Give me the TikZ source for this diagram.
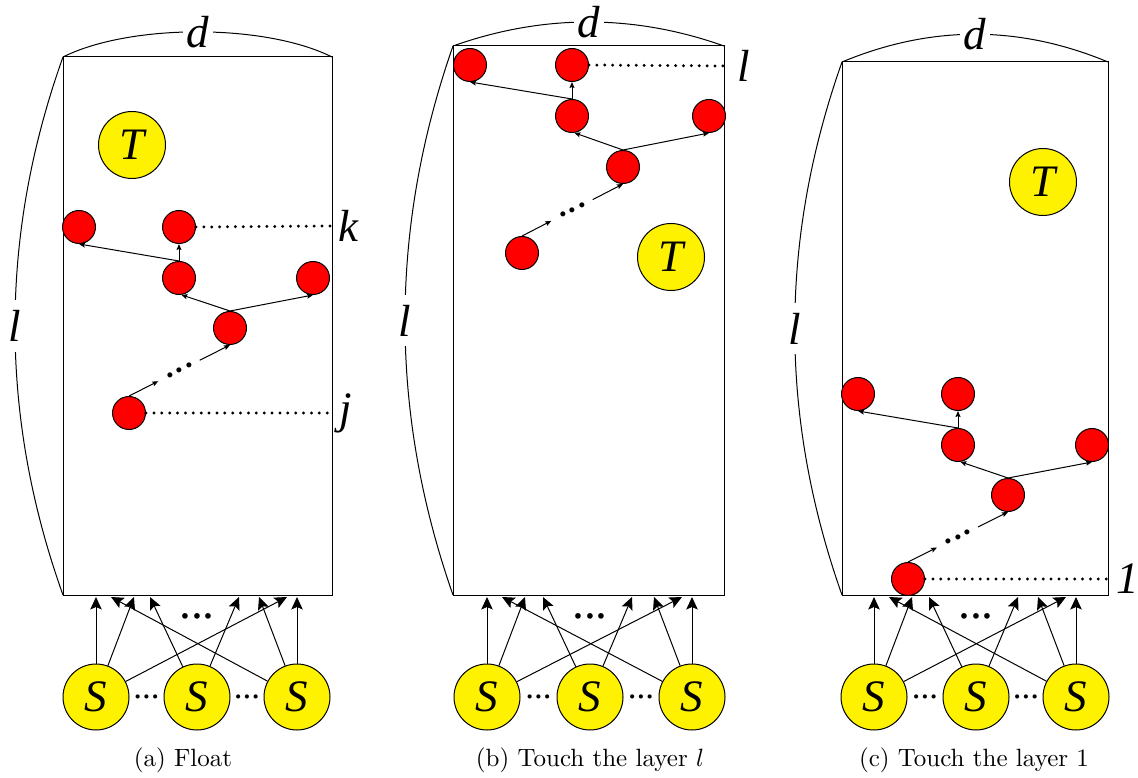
\documentclass[tikz,border=0pt]{standalone}
\usepackage{fontspec}
\newfontfamily\tms{Liberation Serif}
\usetikzlibrary{arrows.meta,calc}
\tikzset{
 lbl/.style={font=\fontsize{18}{20}\selectfont\tms\itshape},
 src/.style={circle,draw,fill=yellow,minimum size=26.4pt,inner sep=0pt,lbl},
 tgt/.style={circle,draw,fill=yellow,minimum size=26.8pt,inner sep=0pt,lbl},
 rn/.style={circle,draw,fill=red,minimum size=13.2pt,inner sep=0pt},
 bigarr/.style={-{Stealth[length=5pt,width=4.6pt,inset=1pt]}},
 smarr/.style={-{Stealth[length=2.4pt,width=2pt,inset=0.4pt]}},
 dotl/.style={line width=1.3pt,dash pattern=on 0pt off 3.15pt,line cap=round},
 gapd/.style={lbl,fill=white,inner xsep=1.5pt,inner ysep=1pt},
 gapl/.style={lbl,fill=white,inner xsep=1pt,inner ysep=4pt},
 sidelbl/.style={lbl,inner xsep=3pt,inner ysep=1pt},
 dotstxt/.style={font=\fontsize{#1}{#1}\selectfont\tms,inner sep=0pt},
 captxt/.style={font=\normalsize},
}
\newcommand\srcs[4]{%
 \node[src] (#1s1) at (#2,697) {S};
 \node[src] (#1s2) at (#3,697) {S};
 \node[src] (#1s3) at (#4,697) {S};
 \node[dotstxt=14] (#1d1) at ($(#1s1.east)!0.5!(#1s2.west)$) {...};
 \node[dotstxt=14] (#1d2) at ($(#1s2.east)!0.5!(#1s3.west)$) {...};
 \node[dotstxt=19] (#1d3) at (#3,616) {...};
 \coordinate (#1t1) at (#2,597);
 \coordinate (#1t2) at (#2+15,597);
 \coordinate (#1t3) at (#2+38,597);
 \coordinate (#1t4) at (#3-47,597);
 \coordinate (#1t5) at (#3+42,597);
 \coordinate (#1t6) at (#4-38,597);
 \coordinate (#1t7) at (#4-10,597);
 \coordinate (#1t8) at (#4,597);
 \draw[bigarr] (#1s1) -- (#1t1);
 \draw[bigarr] (#1s3) -- (#1t2);
 \draw[bigarr] (#1s1) -- (#1t3);
 \draw[bigarr] (#1s2) -- (#1t4);
 \draw[bigarr] (#1s2) -- (#1t5);
 \draw[bigarr] (#1s3) -- (#1t6);
 \draw[bigarr] (#1s1) -- (#1t7);
 \draw[bigarr] (#1s3) -- (#1t8);
}
\newcommand\treearrows[1]{%
 \draw[smarr] (#1r3.north) -- (#1r1.south);
 \draw[smarr] (#1r3.north) -- (#1r2.south);
 \draw[smarr] (#1r5.north) -- (#1r3.-82);
 \draw[smarr] (#1r5.north) -- (#1r4.south);
 \draw[smarr] (#1r6.north) -- ($(#1r6.north)!0.29!(#1r5.south)$);
 \draw[smarr] ($(#1r6.north)!0.70!(#1r5.south)$) -- (#1r5.south);
 \path (#1r6.north) -- (#1r5.south) node[midway,sloped,dotstxt=17] {...};
}
\begin{document}
\begin{tikzpicture}[x=0.4pt,y=-0.4pt,line width=0.4pt]
\useasboundingbox (0,0) rectangle (1138,778);
% ---------- panel (a)
\coordinate (atl) at (63,57); \coordinate (atr) at (332,57);
\coordinate (abl) at (63,595); \coordinate (abr) at (332,595);
\draw (atl) rectangle (abr);
\draw (atl) .. controls (130,23.5) and (265,23.5) .. (atr) node[midway,gapd] {d};
\draw (atl) .. controls (-1,236) and (-1,416) .. (abl) node[midway,gapl] {l};
\node[tgt] (aT) at (132,145) {T};
\node[rn] (ar1) at (79,227) {};
\node[rn] (ar2) at (179,227) {};
\node[rn] (ar3) at (179,278) {};
\node[rn] (ar4) at (313,278) {};
\node[rn] (ar5) at (230,328) {};
\node[rn] (ar6) at (129,413) {};
\treearrows{a}
\node[sidelbl] (ak) at (348,226) {k};
\node[sidelbl] (aj) at (346,413) {j};
\draw[dotl] (ar2.east) -- (ak.west);
\draw[dotl] (ar6.east) -- (aj.west);
\srcs{a}{96}{197}{297}
\node[captxt] (acap) at (183,760) {(a) Float};
% ---------- panel (b)
\coordinate (btl) at (453,46); \coordinate (btr) at (724,46);
\coordinate (bbl) at (453,595); \coordinate (bbr) at (724,595);
\draw (btl) rectangle (bbr);
\draw (btl) .. controls (543,14) and (634,14) .. (btr) node[midway,gapd] {d};
\draw (btl) .. controls (389,229) and (389,412) .. (bbl) node[midway,gapl] {l};
\node[tgt] (bT) at (671,257) {T};
\node[rn] (br1) at (470,65) {};
\node[rn] (br2) at (572,65) {};
\node[rn] (br3) at (572,116) {};
\node[rn] (br4) at (709,116) {};
\node[rn] (br5) at (623,167) {};
\node[rn] (br6) at (522,253) {};
\treearrows{b}
\node[sidelbl] (bl) at (744,66) {l};
\draw[dotl] (br2.east) -- (bl.west);
\srcs{b}{487}{590}{692}
\node[captxt] (bcap) at (590,760) {(b) Touch the layer $l$};
% ---------- panel (c)
\coordinate (ctl) at (842,62); \coordinate (ctr) at (1108,62);
\coordinate (cbl) at (842,595); \coordinate (cbr) at (1108,595);
\draw (ctl) rectangle (cbr);
\draw (ctl) .. controls (931,25) and (1019,25) .. (ctr) node[midway,gapd] {d};
\draw (ctl) .. controls (779,240) and (779,417) .. (cbl) node[midway,gapl] {l};
\node[tgt] (cT) at (1043,182) {T};
\node[rn] (cr1) at (858,394) {};
\node[rn] (cr2) at (958,394) {};
\node[rn] (cr3) at (958,445) {};
\node[rn] (cr4) at (1092,445) {};
\node[rn] (cr5) at (1008,495) {};
\node[rn] (cr6) at (908,579) {};
\treearrows{c}
\node[sidelbl] (cone) at (1128,579) {1};
\draw[dotl] (cr6.east) -- (cone.west);
\srcs{c}{874}{976}{1076}
\node[captxt] (ccap) at (974,760) {(c) Touch the layer 1};
\end{tikzpicture}
\end{document}
